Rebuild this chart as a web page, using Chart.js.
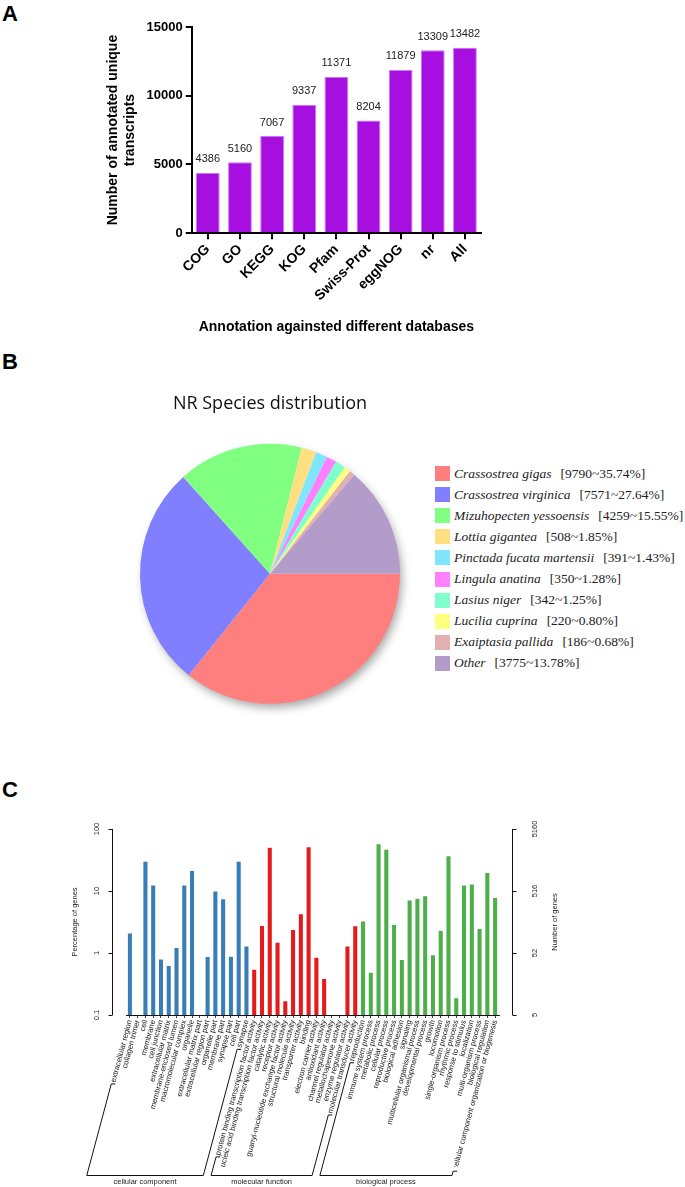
<!DOCTYPE html>
<html>
<head>
<meta charset="utf-8">
<script src="https://cdn.jsdelivr.net/npm/chart.js@4.4.1/dist/chart.umd.min.js"></script>
<style>
  html, body { margin: 0; padding: 0; background: #fff; }
  body { width: 685px; height: 1187px; position: relative; overflow: hidden; font-family: "Liberation Sans", Arial, sans-serif; }
  .tag { position: absolute; left: 2px; font: bold 22px/22px "Liberation Sans", Arial, sans-serif; color: #000; }
  canvas { position: absolute; }
  #legendB { position: absolute; left: 435px; top: 463px; font-family: "Liberation Serif", "Times New Roman", serif; font-size: 13.5px; color: #222; }
  #legendB .row { height: 21.1px; display: flex; align-items: center; white-space: nowrap; }
  #legendB .sw { width: 15px; height: 15px; margin-right: 4px; flex: none; }
  #legendB i { margin-right: 9px; }
</style>
</head>
<body>
<div class="tag" style="top:3px">A</div>
<div class="tag" style="top:351px">B</div>
<div class="tag" style="top:779px">C</div>

<canvas id="chartA" width="420" height="340" style="left:90px;top:0px"></canvas>
<canvas id="chartB" width="300" height="340" style="left:120px;top:380px"></canvas>
<div id="legendB"></div>
<canvas id="chartC" width="540" height="377" style="left:40px;top:810px"></canvas>

<script>
// ---------- Панель A: аннотация по базам ----------
const dbNames = ['COG', 'GO', 'KEGG', 'KOG', 'Pfam', 'Swiss-Prot', 'eggNOG', 'nr', 'All'];
const dbCounts = [4386, 5160, 7067, 9337, 11371, 8204, 11879, 13309, 13482];
const dbTicks = [0, 5000, 10000, 15000];

// ---------- Панель B: распределение видов NR ----------
const species = ['Crassostrea gigas', 'Crassostrea virginica', 'Mizuhopecten yessoensis', 'Lottia gigantea',
  'Pinctada fucata martensii', 'Lingula anatina', 'Lasius niger', 'Lucilia cuprina', 'Exaiptasia pallida', 'Other'];
const speciesCounts = [9790, 7571, 4259, 508, 391, 350, 342, 220, 186, 3775];
const speciesColors = ['#ff7f7f', '#7f7fff', '#80ff80', '#ffdf80', '#80e5ff', '#ff80ff', '#80ffcc', '#ffff80', '#e2b0b0', '#b39bca'];

// ---------- Панель C: GO классификация ----------
const ccTerms = ['extracellular region', 'collagen trimer', 'cell', 'membrane', 'cell junction', 'extracellular matrix',
  'membrane-enclosed lumen', 'macromolecular complex', 'organelle', 'extracellular matrix part', 'extracellular region part',
  'organelle part', 'membrane part', 'synapse part', 'cell part', 'synapse'];
const ccPercent = [2.1, null, 30.4, 12.6, 0.8, 0.63, 1.23, 12.6, 21.5, null, 0.88, 10, 7.5, 0.89, 30.4, 1.3];

const mfTerms = ['protein binding transcription factor activity', 'nucleic acid binding transcription factor activity',
  'catalytic activity', 'receptor activity', 'guanyl-nucleotide exchange factor activity', 'structural molecule activity',
  'transporter activity', 'binding', 'electron carrier activity', 'antioxidant activity', 'channel regulator activity',
  'metallochaperone activity', 'enzyme regulator activity', 'molecular transducer activity'];
const mfPercent = [0.55, 2.8, 51, 1.5, 0.17, 2.4, 4.3, 52, 0.86, 0.39, null, null, 1.3, 2.75];

const bpTerms = ['reproduction', 'immune system process', 'metabolic process', 'cellular process', 'reproductive process',
  'biological adhesion', 'signaling', 'multicellular organismal process', 'developmental process', 'growth', 'locomotion',
  'single-organism process', 'rhythmic process', 'response to stimulus', 'localization', 'multi-organism process',
  'biological regulation', 'cellular component organization or biogenesis'];
const bpPercent = [3.3, 0.49, 58, 47.5, 2.9, 0.79, 7.2, 7.7, 8.4, 0.94, 2.33, 37, 0.19, 12.6, 13, 2.5, 20, 7.9];

const percentTicks = [0.1, 1, 10, 100];
const totalGenes = 5160;
const geneTickLabels = ['5', '52', '516', '5160'];

const SANS = '"Liberation Sans", Arial, sans-serif';
Chart.defaults.font.family = SANS;
Chart.defaults.color = '#000';

// ================== ПАНЕЛЬ A ================== //

// подписи значений над столбцами
const barValueLabels = {
  id: 'barValueLabels',
  afterDatasetsDraw(chart) {
    const ctx = chart.ctx;
    const meta = chart.getDatasetMeta(0);
    ctx.save();
    ctx.font = '11px ' + SANS;
    ctx.fillStyle = '#222';
    ctx.textAlign = 'center';
    ctx.textBaseline = 'bottom';
    meta.data.forEach((bar, i) => {
      ctx.fillText(String(chart.data.datasets[0].data[i]), bar.x, bar.y - 8);
    });
    ctx.restore();
  }
};

new Chart(document.getElementById('chartA'), {
  type: 'bar',
  data: {
    labels: dbNames,
    datasets: [{
      data: dbCounts,
      backgroundColor: '#a70ee0',
      borderColor: '#c77af0',
      borderWidth: 1,
      barPercentage: 0.74,
      categoryPercentage: 1
    }]
  },
  options: {
    responsive: false,
    animation: false,
    layout: { padding: { left: 15, right: 29, top: 27, bottom: 4 } },
    plugins: { legend: { display: false }, tooltip: { enabled: false } },
    scales: {
      x: {
        grid: { display: true, drawOnChartArea: false, offset: false, tickLength: 6, color: '#000', lineWidth: 2 },
        border: { color: '#000', width: 2 },
        ticks: { minRotation: 45, maxRotation: 45, padding: 2, color: '#000', font: { size: 14, weight: 'bold' } },
        title: {
          display: true, text: 'Annotation againsted different databases', color: '#000',
          font: { size: 14, weight: 'bold' }, padding: { top: 13, bottom: 0 }
        }
      },
      y: {
        min: 0,
        max: 15000,
        afterBuildTicks: (s) => { s.ticks = dbTicks.map(v => ({ value: v })); },
        ticks: { padding: 3, color: '#000', font: { size: 13, weight: 'bold' }, callback: (v) => String(v) },
        grid: { display: true, drawOnChartArea: false, tickLength: 6, color: '#000', lineWidth: 2 },
        border: { color: '#000', width: 2 },
        title: {
          display: true, text: ['Number of annotated unique', 'transcripts'], color: '#000',
          font: { size: 14, weight: 'bold' }, padding: { top: 0, bottom: 5 }
        }
      }
    }
  },
  plugins: [barValueLabels]
});

// ================== ПАНЕЛЬ B ================== //

// мягкая тень под кругом
const pieShadow = {
  id: 'pieShadow',
  beforeDatasetsDraw(chart) {
    const arc = chart.getDatasetMeta(0).data[0];
    if (!arc) return;
    const ctx = chart.ctx;
    ctx.save();
    ctx.shadowColor = 'rgba(0,0,0,0.35)';
    ctx.shadowBlur = 10;
    ctx.shadowOffsetX = 3;
    ctx.shadowOffsetY = 5;
    ctx.beginPath();
    ctx.arc(arc.x, arc.y, arc.outerRadius - 1, 0, Math.PI * 2);
    ctx.fillStyle = '#fff';
    ctx.fill();
    ctx.restore();
  }
};

const speciesTotal = speciesCounts.reduce((a, b) => a + b, 0);

new Chart(document.getElementById('chartB'), {
  type: 'pie',
  data: {
    labels: species,
    datasets: [{ data: speciesCounts, backgroundColor: speciesColors, borderWidth: 0 }]
  },
  options: {
    responsive: false,
    animation: false,
    rotation: 90,
    layout: { padding: { left: 20, right: 20, bottom: 15 } },
    plugins: {
      legend: { display: false },
      tooltip: { enabled: false },
      title: {
        display: true,
        text: 'NR Species distribution',
        color: '#111',
        font: { family: '"Open Sans", sans-serif', size: 18, weight: 'normal' },
        padding: { top: 13, bottom: 28 }
      }
    }
  },
  plugins: [pieShadow]
});

// легенда с курсивом для названий видов
const legendB = document.getElementById('legendB');
species.forEach((name, i) => {
  const row = document.createElement('div');
  row.className = 'row';
  const pct = (speciesCounts[i] / speciesTotal * 100).toFixed(2);
  row.innerHTML = '<span class="sw" style="background:' + speciesColors[i] + '"></span>' +
    '<i>' + name + '</i><span>[' + speciesCounts[i] + '~' + pct + '%]</span>';
  legendB.appendChild(row);
});

// ================== ПАНЕЛЬ C ================== //

const goGroups = [
  { name: 'cellular component', terms: ccTerms, values: ccPercent, color: '#377eb8' },
  { name: 'molecular function', terms: mfTerms, values: mfPercent, color: '#e41a1c' },
  { name: 'biological process', terms: bpTerms, values: bpPercent, color: '#4daf4a' }
];
const allTerms = [].concat(ccTerms, mfTerms, bpTerms);

let startIdx = 0;
const goDatasets = goGroups.map(g => {
  const first = startIdx;
  g.first = first;
  g.last = first + g.terms.length - 1;
  startIdx += g.terms.length;
  return {
    label: g.name,
    data: allTerms.map((_, i) => (i >= g.first && i <= g.last) ? g.values[i - first] : null),
    backgroundColor: g.color,
    borderColor: 'rgba(255,255,255,0.35)',
    borderWidth: 0.6,
    grouped: false,
    barPercentage: 0.68,
    categoryPercentage: 1
  };
});

const LABEL_ROT = 75;
const LABEL_SIZE = 7.6;
const LABEL_FONT = LABEL_SIZE + 'px ' + SANS;
const SMALL_FONT = '7.5px ' + SANS;

// оси в стиле R, скобки групп и правая подпись
const goDecor = {
  id: 'goDecor',
  afterDraw(chart) {
    const ctx = chart.ctx;
    const area = chart.chartArea;
    const y = chart.scales.y;
    const y2 = chart.scales.y2;
    const x = chart.scales.x;
    ctx.save();
    ctx.strokeStyle = '#111';
    ctx.lineWidth = 1;

    // левая ось
    const lx = Math.round(area.left - 14) + 0.5;
    ctx.beginPath();
    ctx.moveTo(lx, y.getPixelForValue(percentTicks[0]));
    ctx.lineTo(lx, y.getPixelForValue(percentTicks[percentTicks.length - 1]));
    percentTicks.forEach(v => {
      const py = Math.round(y.getPixelForValue(v)) + 0.5;
      ctx.moveTo(lx, py);
      ctx.lineTo(lx - 4, py);
    });
    // правая ось
    const rx = Math.round(area.right + 13) + 0.5;
    ctx.moveTo(rx, y2.getPixelForValue(y2.min));
    ctx.lineTo(rx, y2.getPixelForValue(y2.max));
    y2.ticks.forEach(t => {
      const py = Math.round(y2.getPixelForValue(t.value)) + 0.5;
      ctx.moveTo(rx, py);
      ctx.lineTo(rx + 4, py);
    });
    ctx.stroke();

    // подпись правой оси (снизу вверх)
    ctx.fillStyle = '#222';
    ctx.font = SMALL_FONT;
    ctx.textAlign = 'center';
    ctx.textBaseline = 'middle';
    ctx.save();
    ctx.translate(area.right + 56, (area.top + area.bottom) / 2);
    ctx.rotate(-Math.PI / 2);
    ctx.fillText('Number of genes', 0, 0);
    ctx.restore();

    // скобки групп
    const th = LABEL_ROT * Math.PI / 180;
    const tickLen = x.options.grid.tickLength;
    const pad = x.options.ticks.padding;
    const yBottom = chart.height - 11.5;
    const labelEnd = (i) => {
      ctx.font = LABEL_FONT;
      const w = ctx.measureText(allTerms[i]).width;
      const ax = x.getPixelForTick(i);
      const ay = x.top + tickLen + pad;
      return { x: ax - w * Math.cos(th) - 2, y: ay + w * Math.sin(th) + 3 };
    };
    const footX = (p) => p.x - (yBottom - p.y) / Math.tan(th);

    goGroups.forEach(g => {
      const a = labelEnd(g.first);
      const b = labelEnd(g.last);
      const ax = footX(a);
      const bx = footX(b);
      ctx.beginPath();
      ctx.moveTo(a.x + 4, a.y);
      ctx.lineTo(a.x, a.y);
      ctx.lineTo(ax, yBottom);
      ctx.lineTo(bx, yBottom);
      ctx.lineTo(b.x, Math.min(b.y, yBottom - 2));
      ctx.lineTo(b.x + 4, Math.min(b.y, yBottom - 2));
      ctx.stroke();
      ctx.font = SMALL_FONT;
      ctx.fillText(g.name, (ax + bx) / 2, yBottom + 6.5);
    });
    ctx.restore();
  }
};

new Chart(document.getElementById('chartC'), {
  type: 'bar',
  data: { labels: allTerms, datasets: goDatasets },
  options: {
    responsive: false,
    animation: false,
    layout: { padding: { left: 22, right: 36, top: 19, bottom: 20 } },
    plugins: { legend: { display: false }, tooltip: { enabled: false } },
    scales: {
      x: {
        afterFit: (s) => { s.height = 152; },
        grid: { display: true, drawOnChartArea: false, offset: false, tickLength: 3, color: '#111', lineWidth: 0.8 },
        border: { display: true, color: '#111', width: 1 },
        ticks: { autoSkip: false, minRotation: LABEL_ROT, maxRotation: LABEL_ROT, padding: 1, color: '#222', font: { size: LABEL_SIZE } }
      },
      y: {
        type: 'logarithmic',
        position: 'left',
        min: percentTicks[0],
        max: percentTicks[percentTicks.length - 1],
        afterBuildTicks: (s) => { s.ticks = percentTicks.map(v => ({ value: v })); },
        afterFit: (s) => { s.width = 64; s.paddingTop = 0; s.paddingBottom = 0; },
        grid: { display: false, drawTicks: false },
        border: { display: false },
        ticks: { minRotation: 90, maxRotation: 90, crossAlign: 'center', padding: 22.5, color: '#222', font: { size: 7.5 }, callback: (v) => String(v) },
        title: { display: true, text: 'Percentage of genes', color: '#222', font: { size: 7.5 }, padding: { top: 8.5, bottom: 15 } }
      },
      y2: {
        type: 'logarithmic',
        position: 'right',
        min: totalGenes * percentTicks[0] / 100,
        max: totalGenes * percentTicks[percentTicks.length - 1] / 100,
        afterBuildTicks: (s) => { s.ticks = percentTicks.map(v => ({ value: totalGenes * v / 100 })); },
        afterFit: (s) => { s.width = 45; s.paddingTop = 0; s.paddingBottom = 0; },
        grid: { display: false, drawTicks: false },
        border: { display: false },
        ticks: { minRotation: 90, maxRotation: 90, crossAlign: 'center', padding: 27.5, color: '#222', font: { size: 7.5 },
          callback: (v, i) => geneTickLabels[i] }
      }
    }
  },
  plugins: [goDecor]
});
</script>
</body>
</html>
